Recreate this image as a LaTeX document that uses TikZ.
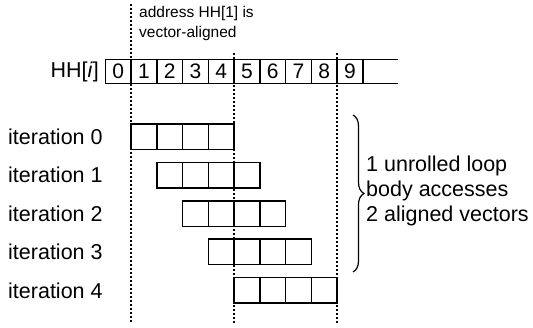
\documentclass[tikz,border=0pt]{standalone}
\usepackage{fontspec}
\setmainfont{Liberation Sans}
\usetikzlibrary{decorations.pathreplacing}

\begin{document}
\begin{tikzpicture}[x=1pt,y=-1pt,
  cell/.style={draw, line width=1.5pt, outer sep=0pt, inner sep=0pt,
    minimum width=25.75pt, minimum height=24pt, anchor=north west,
    font=\fontsize{21}{21}\selectfont},
  vcell/.style={draw, line width=1.5pt, outer sep=0pt, inner sep=0pt,
    minimum width=25.75pt, minimum height=25.5pt, anchor=north west},
  guide/.style={line width=1.3pt, dash pattern=on 2.5pt off 1.5pt},
  lbl/.style={font=\fontsize{21.5}{25}\selectfont, inner sep=0pt, anchor=west},
  note/.style={font=\fontsize{15.5}{20}\selectfont, inner sep=0pt, align=left, anchor=north west},
  bracestyle/.style={line width=1.2pt, decorate, decoration={brace, amplitude=11pt}}]
\useasboundingbox (0,0) rectangle (533,328);

% vertical alignment guides
\coordinate (g1t) at (131.05,4);
\coordinate (g1b) at (131.05,324);
\coordinate (g2t) at (234.05,53);
\coordinate (g2b) at (234.05,324);
\coordinate (g3t) at (337.05,53);
\coordinate (g3b) at (337.05,324);
\draw[guide] (g1t) -- (g1b);
\draw[guide] (g2t) -- (g2b);
\draw[guide] (g3t) -- (g3b);

% alignment note
\node[note] (addr) at (139,6.5) {address HH[1] is\\vector-aligned};

% the array HH
\node[lbl, anchor=east] (hh) at (99,71.5) {HH[\textit{i}]};
\foreach \i in {0,...,9}
  \node[cell] (c\i) at ({105.3+25.75*\i},59.5) {\i};
\coordinate (tailT) at (398,59.5);
\coordinate (tailB) at (398,83.5);
\draw[line width=1.5pt] (c9.north east) -- (tailT);
\draw[line width=1.5pt] (c9.south east) -- (tailB);

% vectors loaded in each iteration
\foreach \k in {0,...,4} {
  \node[lbl] (it\k) at (8,{136.75+38.4*\k}) {iteration \k};
  \foreach \j in {0,...,3}
    \node[vcell] (b\k\j) at ({131.05+25.75*(\k+\j)},{124+38.4*\k}) {};
}

% brace and its explanation
\coordinate (brT) at (353,115);
\coordinate (brB) at (353,272);
\draw[bracestyle] (brT) -- (brB);
\node[lbl, align=left] (expl) at (366,191) {1 unrolled loop\\body accesses\\2 aligned vectors};
\end{tikzpicture}
\end{document}
